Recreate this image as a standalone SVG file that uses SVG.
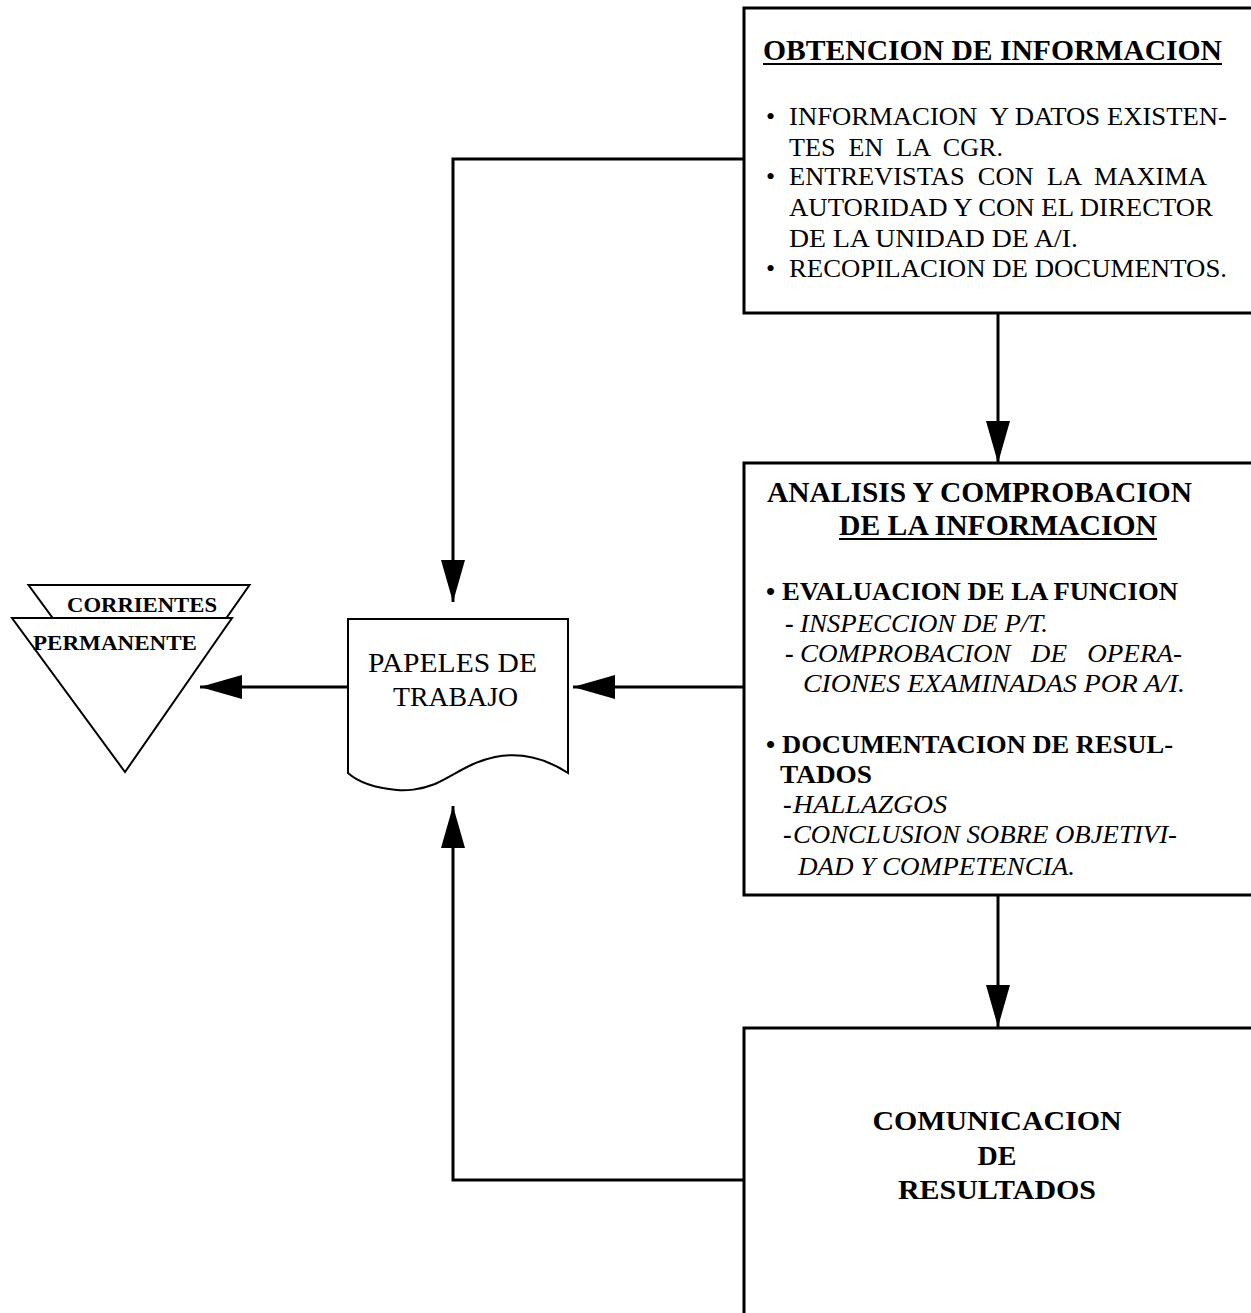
<svg xmlns="http://www.w3.org/2000/svg" width="1251" height="1313" viewBox="0 0 1251 1313">
<style>
text{font-family:"Liberation Serif","Times New Roman",serif;fill:#000;white-space:pre}
.b{font-weight:bold}
.i{font-style:italic}
.t{font-size:30px;font-weight:bold}
.n{font-size:26px}
.box{fill:#fff;stroke:#000;stroke-width:3}
.thin{fill:#fff;stroke:#000;stroke-width:2}
.con{fill:none;stroke:#000;stroke-width:3}
.ul{stroke:#000;stroke-width:2}
</style>
<defs>
<marker id="ah" markerUnits="userSpaceOnUse" markerWidth="42" markerHeight="24" refX="42" refY="12" orient="auto" viewBox="0 0 42 24">
<path d="M0,0 L42,12 L0,24 Z" fill="#000"/>
</marker>
</defs>
<rect width="1251" height="1313" fill="#fff"/>

<g id="connectors">
<path class="con" d="M744,159 H453 V602" marker-end="url(#ah)"/>
<path class="con" d="M998,313 V463" marker-end="url(#ah)"/>
<path class="con" d="M744,687 H573" marker-end="url(#ah)"/>
<path class="con" d="M348,687 H200" marker-end="url(#ah)"/>
<path class="con" d="M998,895 V1027" marker-end="url(#ah)"/>
<path class="con" d="M744,1180 H453 V806" marker-end="url(#ah)"/>
</g>

<g id="obtencion">
<rect class="box" x="744" y="8" width="520" height="305"/>
<text class="t" x="763" y="60" textLength="459" lengthAdjust="spacingAndGlyphs">OBTENCION DE INFORMACION</text>
<line class="ul" x1="763" y1="64" x2="1222" y2="64"/>
<text class="n" x="766" y="125">•</text>
<text class="n" x="789" y="125" textLength="438" lengthAdjust="spacingAndGlyphs">INFORMACION  Y DATOS EXISTEN-</text>
<text class="n" x="789" y="156" textLength="214" lengthAdjust="spacingAndGlyphs">TES  EN  LA  CGR.</text>
<text class="n" x="766" y="185">•</text>
<text class="n" x="789" y="185" textLength="418" lengthAdjust="spacingAndGlyphs">ENTREVISTAS  CON  LA  MAXIMA</text>
<text class="n" x="789" y="216" textLength="424" lengthAdjust="spacingAndGlyphs">AUTORIDAD Y CON EL DIRECTOR</text>
<text class="n" x="789" y="247" textLength="289" lengthAdjust="spacingAndGlyphs">DE LA UNIDAD DE A/I.</text>
<text class="n" x="766" y="277">•</text>
<text class="n" x="789" y="277" textLength="438" lengthAdjust="spacingAndGlyphs">RECOPILACION DE DOCUMENTOS.</text>
</g>

<g id="analisis">
<rect class="box" x="744" y="463" width="520" height="432"/>
<text class="t" x="767" y="502" textLength="425" lengthAdjust="spacingAndGlyphs">ANALISIS Y COMPROBACION</text>
<text class="t" x="839" y="535" textLength="318" lengthAdjust="spacingAndGlyphs">DE LA INFORMACION</text>
<line class="ul" x1="839" y1="539" x2="1157" y2="539"/>
<text class="n b" x="766" y="600">•</text>
<text class="n b" x="782" y="600" textLength="396" lengthAdjust="spacingAndGlyphs">EVALUACION DE LA FUNCION</text>
<text class="n b" x="785" y="632">-</text>
<text class="n i" x="800" y="632" textLength="248" lengthAdjust="spacingAndGlyphs">INSPECCION DE P/T.</text>
<text class="n b" x="785" y="662">-</text>
<text class="n i" x="800" y="662" textLength="382" lengthAdjust="spacingAndGlyphs">COMPROBACION   DE   OPERA-</text>
<text class="n i" x="803" y="692" textLength="382" lengthAdjust="spacingAndGlyphs">CIONES EXAMINADAS POR A/I.</text>
<text class="n b" x="766" y="753">•</text>
<text class="n b" x="782" y="753" textLength="391" lengthAdjust="spacingAndGlyphs">DOCUMENTACION DE RESUL-</text>
<text class="n b" x="780" y="783" textLength="92" lengthAdjust="spacingAndGlyphs">TADOS</text>
<text class="n b" x="783" y="813">-</text>
<text class="n i" x="793" y="813" textLength="154" lengthAdjust="spacingAndGlyphs">HALLAZGOS</text>
<text class="n b" x="783" y="843">-</text>
<text class="n i" x="793" y="843" textLength="384" lengthAdjust="spacingAndGlyphs">CONCLUSION SOBRE OBJETIVI-</text>
<text class="n i" x="798" y="875" textLength="277" lengthAdjust="spacingAndGlyphs">DAD Y COMPETENCIA.</text>
</g>

<g id="comunicacion">
<rect class="box" x="744" y="1028" width="520" height="300"/>
<text class="t" style="font-size:28px" x="997" y="1130" text-anchor="middle" textLength="249" lengthAdjust="spacingAndGlyphs">COMUNICACION</text>
<text class="t" style="font-size:28px" x="997" y="1165" text-anchor="middle">DE</text>
<text class="t" style="font-size:28px" x="997" y="1199" text-anchor="middle" textLength="198" lengthAdjust="spacingAndGlyphs">RESULTADOS</text>
</g>

<g id="papeles">
<path class="thin" d="M348,619 H568 V773 C545,758 520,752 495,757 C470,762 455,775 435,784 C420,790 405,791 397,790 C375,788 358,782 348,773 Z"/>
<text class="n" style="font-size:28px" x="368" y="672" textLength="169" lengthAdjust="spacingAndGlyphs">PAPELES DE</text>
<text class="n" style="font-size:28px" x="393" y="706" textLength="125" lengthAdjust="spacingAndGlyphs">TRABAJO</text>
</g>

<g id="archivo">
<path class="thin" d="M28.5,585 H249.5 L141.5,739 Z"/>
<text class="b" style="font-size:22px" x="67" y="612" textLength="150" lengthAdjust="spacingAndGlyphs">CORRIENTES</text>
<path class="thin" d="M12,618 H232 L125,772 Z"/>
<text class="b" style="font-size:22px" x="33" y="650" textLength="164" lengthAdjust="spacingAndGlyphs">PERMANENTE</text>
</g>
</svg>
